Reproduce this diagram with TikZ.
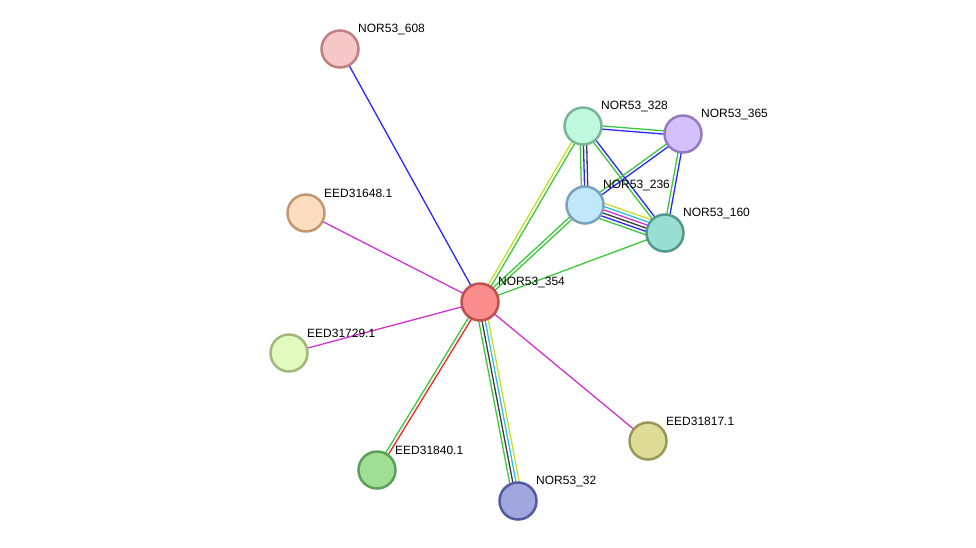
\documentclass[tikz,border=0pt]{standalone}
\usepackage{fontspec}
\setmainfont{Liberation Sans}
\usetikzlibrary{calc,backgrounds}
\definecolor{eG}{RGB}{60,200,60}
\definecolor{eB}{RGB}{40,40,250}
\definecolor{eM}{RGB}{210,50,210}
\definecolor{eY}{RGB}{200,220,40}
\definecolor{eC}{RGB}{40,190,230}
\definecolor{eK}{RGB}{60,60,60}
\definecolor{eR}{RGB}{240,40,40}
\tikzset{
  prot/.style={circle,minimum size=37pt,inner sep=0pt,line width=2.5pt},
  lab/.style={anchor=west,font=\fontsize{12}{12}\selectfont,inner sep=0pt},
  edge/.style={line width=1.3pt}
}
\newcommand\medge[4]{%
  \foreach \cc [count=\ii] in {#4}{%
    \pgfmathsetmacro\off{(\ii-(#3+1)/2)*3.2}%
    \draw[edge,\cc] ($(#1)!\off pt!90:(#2)$) -- ($(#2)!\off pt!-90:(#1)$);}}
\newcommand\prot[6]{% name, x, y, fill, border, label
  \definecolor{f#1}{RGB}{#4}\definecolor{d#1}{RGB}{#5}%
  \node[prot,fill=f#1,draw=d#1] (#1) at (#2,#3) {};
  \node[lab] (l#1) at (#2+18,#3-20) {#6};}
\begin{document}
\begin{tikzpicture}[x=1pt,y=-1pt]
\useasboundingbox (0,0) rectangle (976,547);
\prot{n608}{340}{49}{247,198,198}{190,128,128}{NOR53\_608}
\prot{n648}{306}{213}{253,221,192}{192,152,112}{EED31648.1}
\prot{n729}{289}{353}{224,250,192}{162,184,122}{EED31729.1}
\prot{n840}{377}{470}{160,222,150}{90,160,90}{EED31840.1}
\prot{n32}{518}{501}{160,166,222}{82,90,160}{NOR53\_32}
\prot{n817}{648}{441}{222,220,150}{152,152,90}{EED31817.1}
\prot{n354}{480}{302}{250,140,140}{190,80,80}{NOR53\_354}
\prot{n328}{583}{126}{192,250,222}{122,182,150}{NOR53\_328}
\prot{n365}{683}{134}{212,192,250}{150,122,192}{NOR53\_365}
\prot{n236}{585}{205}{192,232,250}{122,162,190}{NOR53\_236}
\prot{n160}{665}{233}{152,222,210}{82,152,140}{NOR53\_160}
\begin{scope}[on background layer]
\medge{n354}{n608}{1}{eB}
\medge{n354}{n648}{1}{eM}
\medge{n354}{n729}{1}{eM}
\medge{n354}{n817}{1}{eM}
\medge{n354}{n840}{2}{eG,eR}
\medge{n354}{n32}{4}{eG,eK,eC,eY}
\medge{n354}{n328}{2}{eG,eY}
\medge{n354}{n236}{2}{eG,eG}
\medge{n354}{n160}{1}{eG}
\medge{n328}{n365}{2}{eB,eG}
\medge{n328}{n236}{3}{eG,eB,eK}
\medge{n328}{n160}{2}{eG,eB}
\medge{n365}{n236}{2}{eG,eB}
\medge{n365}{n160}{2}{eG,eB}
\medge{n236}{n160}{6}{eG,eB,eK,eM,eC,eY}
\end{scope}
\end{tikzpicture}
\end{document}
